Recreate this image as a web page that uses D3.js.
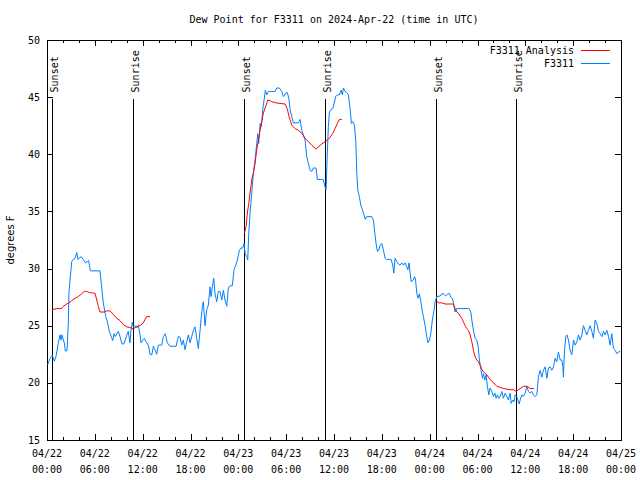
<!DOCTYPE html>
<html><head><meta charset="utf-8">
<script src="https://cdn.jsdelivr.net/npm/d3@7"></script>
<style>
body{margin:0;background:#fff;}
text{font-family:"DejaVu Sans Mono",monospace;font-size:10px;fill:#000;}
</style></head>
<body>
<svg id="chart" width="640" height="480"></svg>
<script>
// ---------- DATA (hours since 2024-04-22 00:00 UTC) ----------
const title = "Dew Point for F3311 on 2024-Apr-22 (time in UTC)";
const yLabel = "degrees F";
const seriesNames = ["F3311 Analysis", "F3311"];
const yTicks = [15, 20, 25, 30, 35, 40, 45, 50];
const sunsetHours = [0.66, 24.76, 48.81];
const sunriseHours = [10.83, 34.92, 58.88];

const blueHours = [0.09,0.38,0.66,0.92,1.13,1.42,1.63,1.76,1.88,2.05,2.17,2.30,2.51,2.67,2.76,2.89,3.10,3.22,3.51,3.73,3.89,4.14,4.35,4.55,4.81,5.06,5.23,5.43,6.65,6.81,7.06,7.37,7.57,7.82,8.07,8.24,8.41,8.57,8.78,8.95,9.16,9.41,9.62,9.82,10.04,10.20,10.41,10.54,10.70,10.83,11.04,11.25,11.46,11.67,11.79,12.01,12.21,12.42,12.71,12.92,13.14,13.34,13.55,13.76,13.96,14.39,14.59,14.84,15.09,15.43,16.19,16.47,16.69,16.90,17.10,17.31,17.53,17.73,17.94,18.16,18.36,18.57,18.78,18.98,19.20,19.32,19.49,19.61,19.82,20.04,20.24,20.45,20.58,20.74,20.92,21.08,21.29,21.49,21.71,21.92,22.12,22.33,22.55,22.75,22.96,23.25,23.46,23.68,23.88,24.13,24.34,24.55,24.72,24.84,25.06,25.18,25.31,25.47,25.68,25.88,26.10,26.31,26.44,26.56,26.73,26.89,27.06,27.23,27.39,27.57,27.77,28.19,28.61,28.82,29.15,29.45,29.65,29.95,30.15,30.33,30.49,30.70,30.90,31.53,31.74,31.96,32.16,32.37,32.58,32.79,33.00,33.21,33.41,33.75,33.91,34.47,34.67,34.84,35.01,35.13,35.29,35.42,35.60,35.85,36.01,36.22,36.42,36.68,36.89,37.05,37.18,37.39,37.60,37.80,38.02,38.18,38.36,38.56,38.73,38.86,38.98,39.18,39.36,39.52,39.69,39.94,40.11,40.74,40.94,41.12,41.28,41.44,41.62,41.78,41.99,42.20,42.41,42.62,43.16,43.37,43.50,43.66,43.88,44.08,44.29,44.50,44.71,44.92,45.13,45.26,45.42,45.55,45.67,45.96,46.09,46.21,46.39,46.55,46.71,46.89,47.05,47.21,47.43,47.64,47.80,47.97,48.14,48.34,48.56,48.68,48.90,49.31,49.52,49.72,50.02,50.28,50.48,50.65,50.85,50.98,51.19,51.41,52.95,53.16,53.29,53.49,53.70,53.91,54.08,54.24,54.45,54.62,54.74,54.92,55.08,55.24,55.42,55.58,55.80,56.00,56.17,56.34,56.50,56.68,56.84,57.05,57.25,57.47,57.68,57.88,58.09,58.22,58.43,58.59,58.72,58.93,59.06,59.22,59.35,59.56,59.76,59.97,60.19,60.39,60.60,60.82,61.02,61.23,61.44,61.64,61.86,62.07,62.27,62.48,62.70,62.90,63.11,63.32,63.53,63.74,63.95,64.15,64.37,64.58,64.71,64.78,64.91,65.08,65.21,65.41,65.62,65.83,66.04,66.25,66.46,66.66,66.88,67.09,67.29,67.50,67.72,67.92,68.13,68.34,68.54,68.76,68.97,69.17,69.39,69.60,69.80,70.01,70.22,70.43,70.64,70.85,71.05,71.27,71.48,71.68,71.89];
const blueValues = [21.6,22.15,22.4,21.9,22.3,23.5,24.2,23.75,24.2,23.75,23.5,22.8,22.8,25.2,28.0,29.0,30.6,30.75,30.9,31.4,30.8,31.0,31.0,30.8,30.5,30.6,30.7,29.8,29.8,28.7,27.0,25.8,25.35,24.5,24.05,23.7,24.3,24.05,24.3,24.5,24.05,23.4,23.4,23.75,24.25,24.5,23.5,24.6,25.3,24.9,25.0,24.8,25.0,24.2,23.5,23.75,23.9,23.6,23.3,22.5,22.45,23.2,22.9,22.5,23.3,23.3,24.05,24.3,23.5,23.2,23.2,24.05,24.0,23.3,23.75,22.9,23.6,24.2,23.5,24.05,24.6,24.9,23.9,23.0,24.6,25.5,26.7,27.1,25.0,26.4,26.8,28.4,27.55,28.4,29.15,27.8,27.1,28.0,28.0,27.25,28.1,27.25,26.7,28.3,28.5,28.5,29.9,30.3,30.75,31.6,31.8,31.8,32.2,31.35,31.05,30.75,33.1,34.85,36.6,38.3,39.5,40.95,41.8,40.95,42.7,42.4,43.9,44.75,45.6,45.2,45.5,45.5,45.5,45.8,45.8,45.5,45.05,45.35,45.4,44.9,43.9,43.3,42.75,42.75,43.05,42.1,41.7,41.25,39.8,39.2,38.6,38.5,38.8,38.8,37.8,37.8,37.75,37.2,36.9,39.5,42.4,43.7,43.9,44.0,44.45,45.05,45.2,45.2,45.6,45.2,45.8,45.5,45.4,45.2,44.0,42.7,42.85,42.55,41.25,38.35,36.9,36.3,35.55,35.25,34.85,34.3,34.55,34.55,34.25,33.1,32.2,31.5,31.6,32.05,32.2,31.6,30.9,30.8,30.8,30.3,29.6,30.9,30.6,30.4,30.3,30.5,30.3,30.5,30.15,29.9,30.5,29.6,28.85,29.0,29.3,29.15,27.8,27.4,27.8,27.1,26.4,25.8,25.0,24.05,23.5,23.75,24.3,25.5,26.4,27.1,27.55,27.6,27.8,27.8,27.6,27.8,27.8,27.5,27.4,27.0,26.2,26.5,26.5,26.2,25.5,24.6,23.9,23.75,23.2,22.0,21.1,20.4,20.8,20.25,20.7,19.7,18.95,19.55,19.25,18.8,19.1,18.65,18.95,18.65,18.8,19.25,18.65,19.1,18.8,18.5,19.1,18.2,18.5,18.35,18.95,18.8,18.5,18.15,18.5,18.95,18.8,19.1,19.7,19.25,19.1,19.25,18.95,18.8,18.95,20.5,21.1,20.5,21.1,21.4,20.4,21.3,21.4,21.1,21.4,22.15,21.85,22.7,22.0,22.0,21.4,20.5,22.85,24.05,24.2,23.75,22.85,22.45,23.75,23.3,23.6,24.2,23.75,24.2,25.0,24.6,24.2,24.6,25.0,24.5,23.9,25.5,25.2,24.5,24.3,24.05,24.5,24.2,24.6,24.05,23.3,24.3,23.0,22.85,22.55,22.7,22.75];

const redHours = [0.66,1.22,1.84,2.05,2.47,2.76,3.10,3.51,3.93,4.35,4.68,4.98,5.31,5.81,6.02,6.24,6.44,6.65,7.19,7.49,7.90,8.32,8.75,9.16,9.57,10.00,10.41,10.83,11.25,11.67,12.08,12.30,12.51,12.92,
  18.0,
  24.76,24.97,25.13,25.31,25.47,25.68,25.88,26.10,26.31,26.51,26.73,26.94,27.14,27.44,27.69,27.98,28.19,28.73,29.23,29.86,30.15,30.36,30.70,31.12,31.53,31.96,32.37,32.79,33.21,33.75,34.04,34.47,34.88,35.29,35.51,35.85,36.14,36.42,36.68,36.98,
  42.0,
  48.85,49.10,49.52,49.94,50.98,51.19,51.41,51.61,51.82,52.03,52.23,52.45,52.66,52.86,53.07,53.29,53.49,53.70,53.91,54.12,54.33,54.54,54.74,55.17,55.58,56.00,56.42,56.84,57.25,57.68,58.09,58.51,58.85,59.14,59.35,59.76,60.19,60.60,61.10];
const redValues = [26.4,26.5,26.5,26.7,26.9,27.0,27.2,27.4,27.55,27.8,28.0,28.0,27.9,27.85,27.85,27.25,26.7,26.2,26.2,26.3,26.3,26.0,25.65,25.45,25.1,24.9,24.85,24.7,24.95,25.0,25.25,25.55,25.8,25.8,
  null,
  33.1,33.65,34.85,35.7,36.6,37.75,38.35,39.2,40.4,41.25,42.1,42.85,43.6,44.2,44.75,44.7,44.6,44.5,44.45,44.4,43.95,43.3,42.55,42.25,42.1,41.85,41.4,41.1,40.8,40.45,40.65,40.9,41.1,41.3,41.5,41.85,42.25,42.7,43.05,43.05,
  null,
  27.2,27.0,27.0,26.9,26.9,26.5,26.2,26.1,25.85,25.65,25.35,25.0,24.75,24.6,24.2,23.6,22.85,22.3,22.0,21.85,21.55,21.2,20.95,20.7,20.3,20.0,19.7,19.6,19.5,19.45,19.4,19.4,19.25,19.4,19.5,19.7,19.7,19.5,19.5];

const colors = {analysis: "#ff0000", obs: "#0080ff"};

// ---------- CHART ----------
const base = Date.UTC(2024, 3, 22, 0, 0);
const toDate = h => new Date(base + h * 3600e3);
const W = 640, H = 480;
const m = {left: 47, right: 19, top: 40, bottom: 40};
const svg = d3.select("#chart");
const x = d3.scaleUtc().domain([toDate(0), toDate(72)]).range([m.left, W - m.right]);
const y = d3.scaleLinear().domain([15, 50]).range([H - m.bottom, m.top]);
const x0 = x.range()[0], x1 = x.range()[1], y0 = y.range()[0], y1 = y.range()[1];

const g = svg.append("g").attr("shape-rendering", "crispEdges");

// frame
g.append("rect").attr("x", x0 + 0.5).attr("y", y1 + 0.5).attr("width", x1 - x0).attr("height", y0 - y1)
  .attr("fill", "none").attr("stroke", "#000");

// x ticks
const majorX = x.ticks(d3.utcHour.every(6));
const minorX = x.ticks(d3.utcHour.every(2)).filter(d => d.getUTCHours() % 6 !== 0);
function xTick(d, len) {
  const px = Math.round(x(d)) + 0.5;
  g.append("line").attr("x1", px).attr("x2", px).attr("y1", y0).attr("y2", y0 - len).attr("stroke", "#000");
  g.append("line").attr("x1", px).attr("x2", px).attr("y1", y1).attr("y2", y1 + len).attr("stroke", "#000");
}
majorX.forEach(d => xTick(d, 6));
minorX.forEach(d => xTick(d, 3));
const fDay = d3.utcFormat("%m/%d"), fTime = d3.utcFormat("%H:%M");
majorX.forEach(d => {
  const t = svg.append("text").attr("x", x(d)).attr("text-anchor", "middle");
  t.append("tspan").attr("x", x(d)).attr("y", y0 + 17).text(fDay(d));
  t.append("tspan").attr("x", x(d)).attr("y", y0 + 33).text(fTime(d));
});

// y ticks
yTicks.forEach(v => {
  const py = Math.round(y(v)) + 0.5;
  g.append("line").attr("x1", x0).attr("x2", x0 + 6).attr("y1", py).attr("y2", py).attr("stroke", "#000");
  g.append("line").attr("x1", x1).attr("x2", x1 - 6).attr("y1", py).attr("y2", py).attr("stroke", "#000");
  svg.append("text").attr("x", x0 - 7).attr("y", y(v)).attr("dy", "0.35em").attr("text-anchor", "end").text(v);
});

// title & y label
svg.append("text").attr("x", (x0 + x1) / 2 + 0).attr("y", 23).attr("text-anchor", "middle").text(title);
svg.append("text").attr("transform", `translate(14,${(y0 + y1) / 2}) rotate(-90)`).attr("text-anchor", "middle")
  .style("font-family", "'DejaVu Sans',sans-serif").style("font-size", "10px").text(yLabel);

// sunset / sunrise markers
function sunMark(h, label) {
  const px = Math.round(x(toDate(h))) + 0.5;
  g.append("line").attr("x1", px).attr("x2", px).attr("y1", y(44.8)).attr("y2", y0).attr("stroke", "#000");
  svg.append("text").attr("transform", `translate(${px + 5.5},${y(44.8) - 7}) rotate(-90)`)
    .attr("text-anchor", "start").text(label);
}
sunsetHours.forEach(h => sunMark(h, "Sunset"));
sunriseHours.forEach(h => sunMark(h, "Sunrise"));

// data lines
const blue = blueHours.map((h, i) => ({t: toDate(h), v: blueValues[i]}));
const red = redHours.map((h, i) => ({t: toDate(h), v: redValues[i]}));
const line = d3.line().defined(d => d.v !== null).x(d => x(d.t)).y(d => y(d.v));
svg.append("path").datum(blue).attr("d", line).attr("fill", "none").attr("stroke", colors.obs).attr("stroke-width", 1);
svg.append("path").datum(red).attr("d", line).attr("fill", "none").attr("stroke", colors.analysis).attr("stroke-width", 1);

// legend
const legend = [{name: seriesNames[0], c: colors.analysis}, {name: seriesNames[1], c: colors.obs}];
legend.forEach((d, i) => {
  const ly = y1 + 10 + i * 13;
  svg.append("text").attr("x", x1 - 47).attr("y", ly).attr("dy", "0.35em").attr("text-anchor", "end").text(d.name);
  g.append("line").attr("x1", x1 - 40).attr("x2", x1 - 11).attr("y1", Math.round(ly) + 0.5).attr("y2", Math.round(ly) + 0.5)
    .attr("stroke", d.c);
});
</script>
</body></html>
